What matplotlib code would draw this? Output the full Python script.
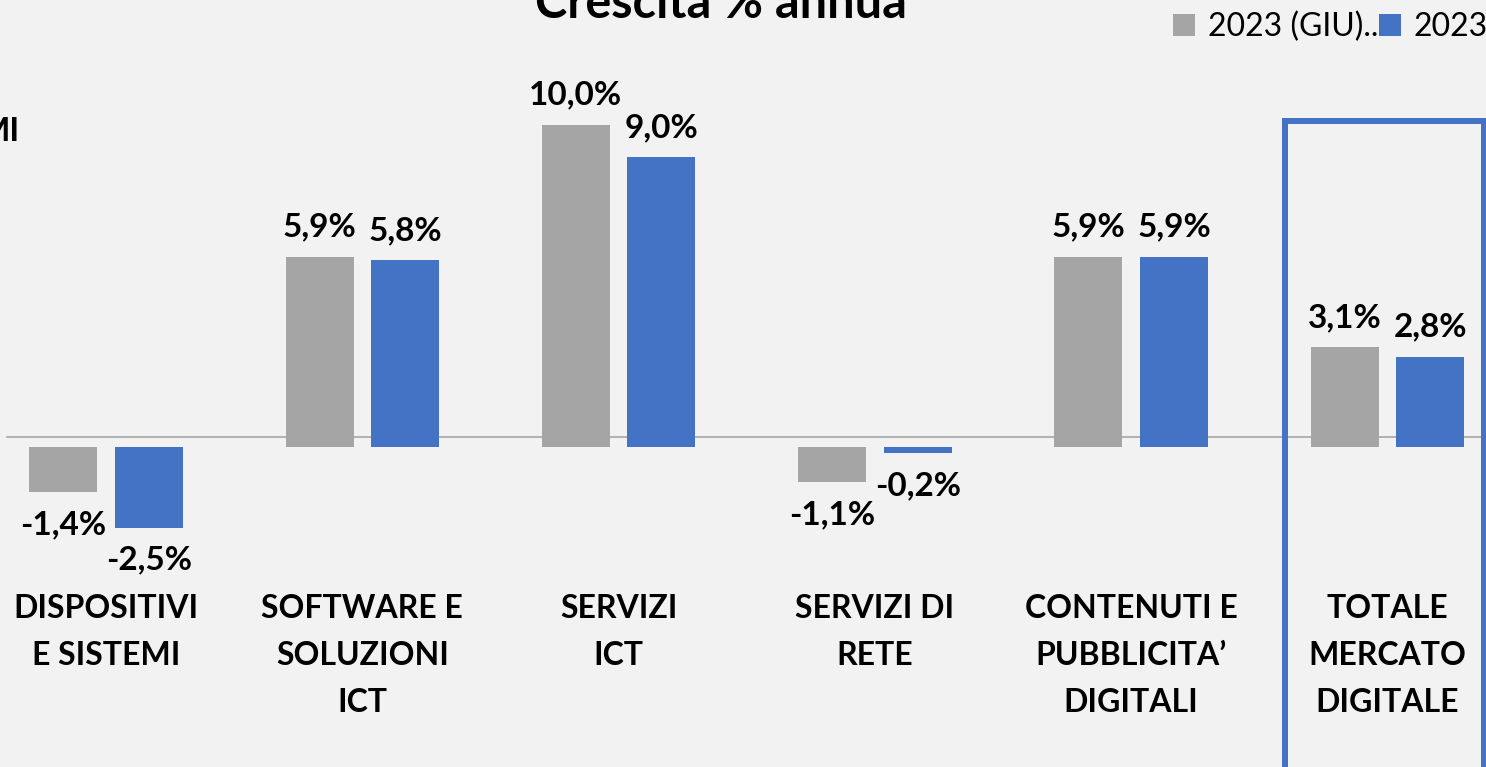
import numpy as np
import matplotlib
matplotlib.use("Agg")
from matplotlib import pyplot as plt
from matplotlib.patches import Rectangle

categories = ["DISPOSITIVI\nE SISTEMI", "SOFTWARE E\nSOLUZIONI\nICT", "SERVIZI\nICT",
              "SERVIZI DI\nRETE", "CONTENUTI E\nPUBBLICITA\u2019\nDIGITALI",
              "TOTALE\nMERCATO\nDIGITALE"]
series_names = ["2023 (GIU)..", "2023"]
giu_2023 = [-1.4, 5.9, 10.0, -1.1, 5.9, 3.1]
fy_2023 = [-2.5, 5.8, 9.0, -0.2, 5.9, 2.8]

GRAY = "#A5A5A5"
BLUE = "#4472C4"
BG = "#F2F2F2"

W, H = 1486, 767
fig = plt.figure(figsize=(W / 100, H / 100), dpi=100, facecolor=BG)
ax = fig.add_axes([0, 0, 1, 1], facecolor=BG)

# pixel layout: group spacing ~256 px, zero at y=447, ~32.2 px per %
px_x = 256.3
px_y = 32.2
ax.set_xlim(-106 / px_x, (W - 106) / px_x)
ax.set_ylim(-(H - 447) / px_y, 447 / px_y)
ax.axis("off")

x = np.arange(len(categories))
bw = 68 / px_x
off = 85.5 / 2 / px_x
b1 = ax.bar(x - off, giu_2023, bw, color=GRAY, label=series_names[0])
b2 = ax.bar(x + off, fy_2023, bw, color=BLUE, label=series_names[1])

# thin reference line sitting just above the bars' base
ax.axhline(10 / px_y, xmin=7 / W, xmax=1, color="#A6A6A6", lw=1.2, zorder=0)

font = ["Lato", "DejaVu Sans"]
fs = 24

for bars, vals in ((b1, giu_2023), (b2, fy_2023)):
    for r, v in zip(bars, vals):
        txt = f"{v:.1f}%".replace(".", ",")
        cx = r.get_x() + r.get_width() / 2
        if v >= 0:
            ax.annotate(txt, (cx, v), xytext=(0, 11), textcoords="offset points",
                        ha="center", va="bottom", fontsize=fs, fontweight="bold", family=font)
        else:
            ax.annotate(txt, (cx, v), xytext=(0, -13), textcoords="offset points",
                        ha="center", va="top", fontsize=fs, fontweight="bold", family=font)

label_y = -(594 - 447) / px_y
for xi, c in zip(x, categories):
    ax.text(xi, label_y, c, ha="center", va="top", fontsize=23, fontweight="bold",
            family=font, linespacing=1.75)

# highlight box around the total
ax.add_patch(Rectangle(((1285 - 106) / px_x, -20), (1484 - 1285) / px_x, 20 + (447 - 121) / px_y,
                       fill=False, edgecolor=BLUE, lw=4.3, zorder=3))

fig.text(721 / W, 1 - 18 / H, "Crescita % annua", ha="center", va="baseline",
         fontsize=35, fontweight="bold", family=font)
fig.text(20 / W, 1 - 117 / H, "MI", ha="right", va="top", fontsize=fs,
         fontweight="bold", family=font)

leg = ax.legend(loc="upper left", bbox_to_anchor=(1173 / W, 1 - 12 / H), ncol=2,
                frameon=False, handlelength=0.7, handleheight=0.7, handletextpad=0.4,
                columnspacing=0.0, borderaxespad=0, borderpad=0,
                prop={"family": font, "size": 23})

fig.savefig("out.png", dpi=100, facecolor=BG)
